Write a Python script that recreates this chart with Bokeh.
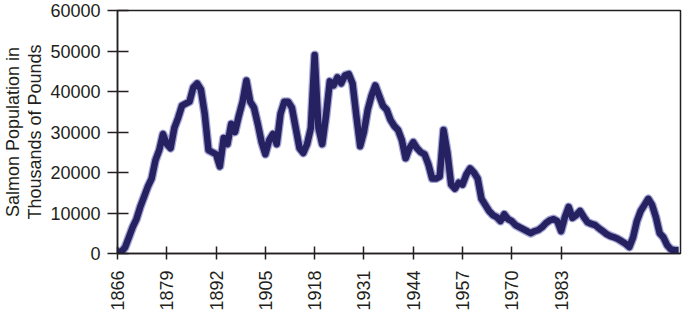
import math
from bokeh.plotting import figure
from bokeh.models import Range1d, FixedTicker
from bokeh.embed import file_html
from bokeh.resources import INLINE

years = list(range(1866, 2015))
salmon = [
    500, 400, 1500, 4000, 6500, 8500, 11500, 14000, 16500, 18500,          # 1866-1875
    23000, 25500, 29500, 27000, 26000, 31000, 33500, 36500, 37000, 37500,  # 1876-1885
    41000, 42000, 40500, 34500, 25500, 25000, 24500, 21500, 28500, 27000,  # 1886-1895
    32000, 30000, 34000, 37500, 42700, 37500, 36000, 32000, 27500, 24500,  # 1896-1905
    28000, 29500, 27000, 34500, 37500, 37500, 36000, 31000, 26000, 24800,  # 1906-1915
    27000, 31000, 49000, 31000, 27000, 34000, 42500, 41500, 43500, 42000,  # 1916-1925
    44000, 44300, 42000, 34000, 26500, 30000, 35500, 39000, 41500, 39000,  # 1926-1935
    36500, 35500, 33000, 31500, 30500, 28000, 23500, 26000, 27500, 26000,  # 1936-1945
    25000, 24500, 22000, 18500, 18500, 19000, 30500, 25000, 17000, 16000,  # 1946-1955
    17500, 17000, 19500, 21000, 20000, 18500, 13500, 12000, 10500, 9500,   # 1956-1965
    9000, 8000, 9700, 8500, 8000, 7000, 6500, 6000, 5500, 5000,            # 1966-1975
    5500, 5800, 6500, 7500, 8200, 8500, 8000, 5500, 9000, 11500,           # 1976-1985
    8800, 9500, 10500, 9000, 7700, 7300, 7000, 6200, 5500, 4800,           # 1986-1995
    4300, 4000, 3600, 3000, 2400, 1600, 4000, 8000, 10500, 12000,          # 1996-2005
    13500, 12000, 9000, 5000, 4000, 2000, 1000, 800, 800,                  # 2006-2014
]
x_ticks = [1866, 1879, 1892, 1905, 1918, 1931, 1944, 1957, 1970, 1983]
y_ticks = [0, 10000, 20000, 30000, 40000, 50000, 60000]

FONT = "Liberation Sans"
INK = "#231f20"

p = figure(width=691, height=313, output_backend="svg", toolbar_location=None,
           x_range=Range1d(1866, 2014.5), y_range=Range1d(0, 60000),
           min_border_left=117, min_border_right=11, min_border_top=10,
           min_border_bottom=59, background_fill_color="white",
           border_fill_color="white")
p.xgrid.visible = False
p.ygrid.visible = False
p.outline_line_color = INK
p.outline_line_width = 1.5

p.line(years, salmon, line_width=9, color="#6a6ab8", alpha=0.6, line_join="round")
p.line(years, salmon, line_width=6.5, color="#262262", line_join="round")

for ax in (p.xaxis[0], p.yaxis[0]):
    ax.axis_line_color = INK
    ax.axis_line_width = 1.5
    ax.major_tick_line_color = INK
    ax.major_tick_line_width = 1.5
    ax.minor_tick_line_color = None
    ax.major_label_text_font = FONT
    ax.major_label_text_font_size = "18px"
    ax.major_label_text_color = INK

p.xaxis.ticker = FixedTicker(ticks=x_ticks)
p.xaxis.major_tick_in = 7
p.xaxis.major_tick_out = 6
p.xaxis.major_label_orientation = math.pi / 2
p.xaxis.major_label_standoff = 11

p.yaxis.ticker = FixedTicker(ticks=y_ticks)
p.yaxis.major_tick_in = 11
p.yaxis.major_tick_out = 10
p.yaxis.major_label_standoff = 7
p.yaxis.axis_label = "Salmon Population in\nThousands of Pounds"
p.yaxis.axis_label_text_font = FONT
p.yaxis.axis_label_text_font_size = "18px"
p.yaxis.axis_label_text_font_style = "normal"
p.yaxis.axis_label_text_color = INK
p.yaxis.axis_label_text_line_height = 1.12
p.yaxis.axis_label_standoff = 2

open("out.html", "w").write(file_html(p, INLINE))
